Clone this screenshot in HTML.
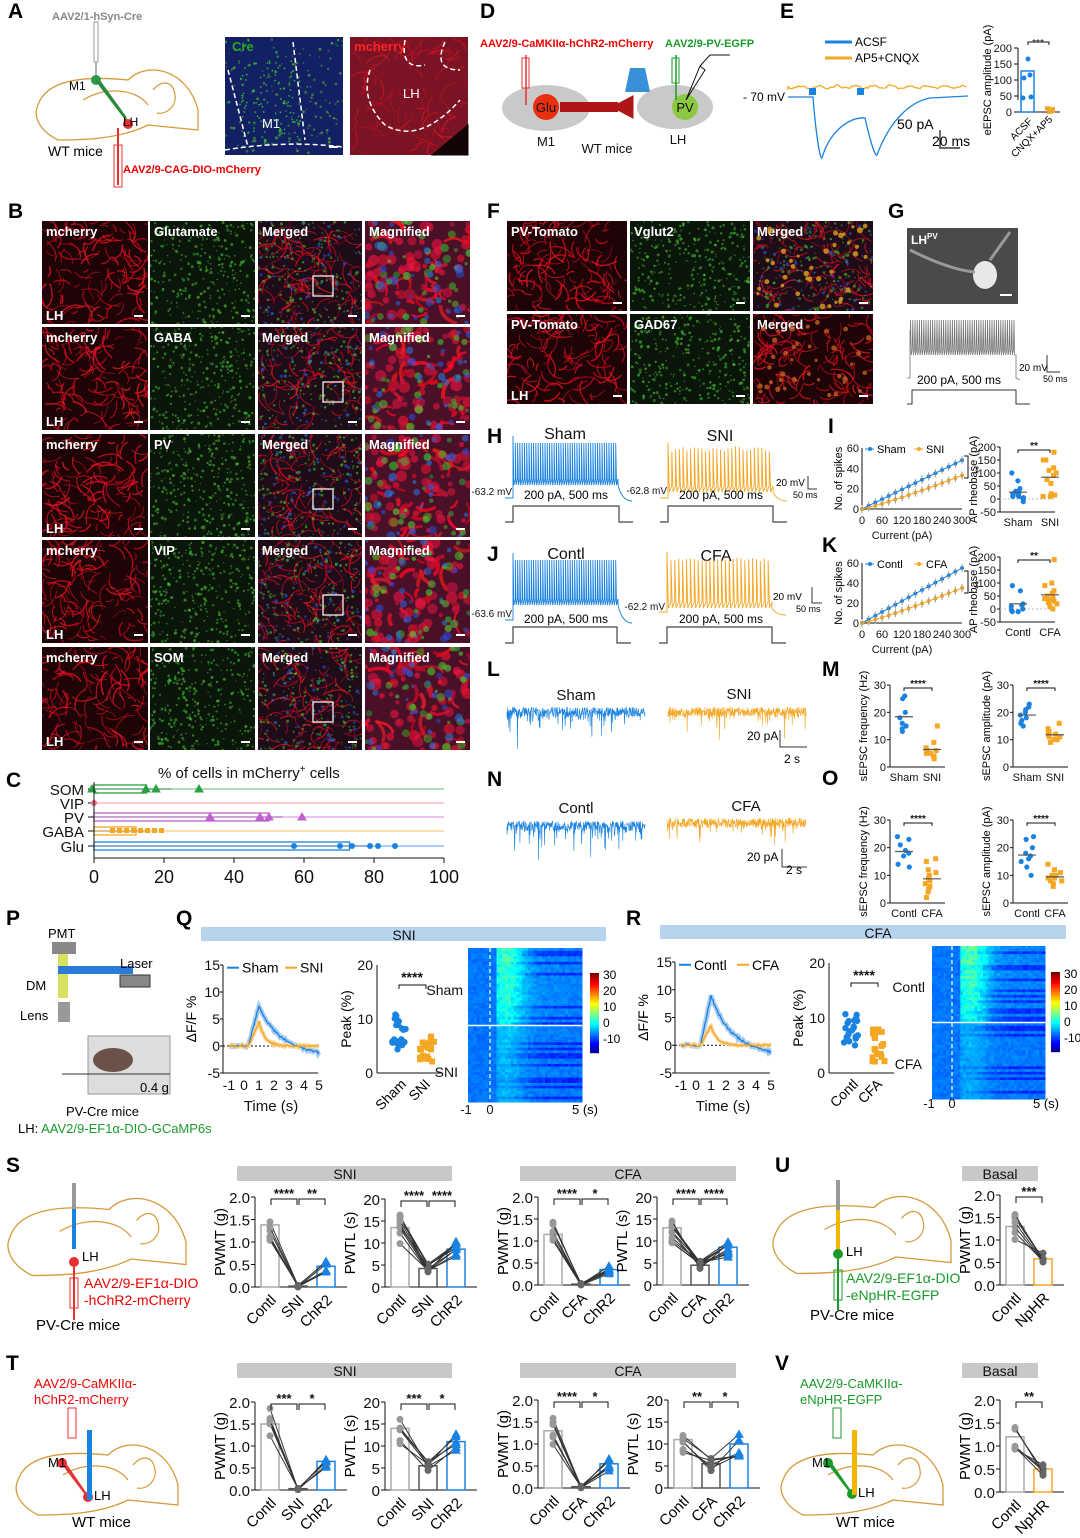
<!DOCTYPE html>
<html><head><meta charset="utf-8"><style>
html,body{margin:0;padding:0;background:#fff}
svg{display:block;font-family:"Liberation Sans",Arial,sans-serif}
</style></head><body>
<svg id="s" width="1080" height="1538" viewBox="0 0 1080 1538" xmlns="http://www.w3.org/2000/svg"></svg>
<script>
var o=[];var seed=7;var cid=0;function R(){seed=(seed*16807)%2147483647;return seed/2147483647;}
function rc(x,y,w,h,f,ex){o.push('<rect x="'+x+'" y="'+y+'" width="'+w+'" height="'+h+'" fill="'+f+'" '+(ex||'')+'/>');}
function tx(x,y,s,sz,f,an,w,ex){o.push('<text x="'+x+'" y="'+y+'" font-size="'+sz+'" fill="'+(f||'#000')+'" text-anchor="'+(an||'start')+'" font-weight="'+(w||'normal')+'" '+(ex||'')+'>'+s+'</text>');}
function ln(x1,y1,x2,y2,c,w,ex){o.push('<line x1="'+x1+'" y1="'+y1+'" x2="'+x2+'" y2="'+y2+'" stroke="'+c+'" stroke-width="'+(w||1)+'" '+(ex||'')+'/>');}
function pa(d,c,w,f,ex){o.push('<path d="'+d+'" stroke="'+c+'" stroke-width="'+(w||1)+'" fill="'+(f||'none')+'" '+(ex||'')+'/>');}
function ci(x,y,r,f,ex){o.push('<circle cx="'+x+'" cy="'+y+'" r="'+r+'" fill="'+f+'" '+(ex||'')+'/>');}
function L(x,y,s){tx(x,y,s,21,'#000','start','bold');}
function rot(x,y,s,sz){tx(x,y,s,sz,'#000','middle','normal','transform="rotate(-90 '+x+' '+y+')"');}
function rl(x,y,s,sz,a){tx(x,y,s,sz,'#000','end','normal','transform="rotate('+(a||-45)+' '+x+' '+y+')"');}
function col(a,b,c){return 'rgb('+Math.round(a)+','+Math.round(b)+','+Math.round(c)+')';}
function fib(x,y,w,h,n,wd,op){for(var i=0;i<n;i++){var a=x+R()*w,b=y+R()*h,an=R()*6.28,l=6+R()*20;var cx=a+Math.cos(an+0.8)*l*0.5,cy=b+Math.sin(an+0.8)*l*0.5;
 pa('M'+a.toFixed(1)+','+b.toFixed(1)+' Q'+cx.toFixed(1)+','+cy.toFixed(1)+' '+(a+Math.cos(an)*l).toFixed(1)+','+(b+Math.sin(an)*l).toFixed(1),col(190+R()*65,R()*30,20+R()*30),wd*(0.6+R()*0.8),'none','opacity="'+op+'"');}}
function img(x,y,w,h,t,lab,lab2){
 cid++;o.push('<clipPath id="c'+cid+'"><rect x="'+x+'" y="'+y+'" width="'+w+'" height="'+h+'"/></clipPath><g clip-path="url(#c'+cid+')">');
 var bg={red:'#1e0406',green:'#0a160a',merge:'#1e0c18',mag:'#4a1028',blue:'#142064',rbg:'#7a1424'}[t];
 rc(x,y,w,h,bg);var i;
 if(t=='red')fib(x,y,w,h,130,1.1,0.75);
 if(t=='merge')fib(x,y,w,h,110,1,0.7);
 if(t=='rbg')fib(x,y,w,h,90,0.9,0.6);
 if(t=='mag'){for(i=0;i<60;i++)ci((x+R()*w).toFixed(1),(y+R()*h).toFixed(1),2+R()*4,col(200+R()*50,20,40+R()*30),'opacity="0.6"');fib(x,y,w,h,30,3,0.8);}
 if(t=='green'||t=='merge'||t=='mag'||t=='blue'){var n=t=='mag'?35:(t=='green'?300:(t=='blue'?150:160));
  for(i=0;i<n;i++){ci((x+R()*w).toFixed(1),(y+R()*h).toFixed(1),t=='mag'?1.5+R()*3:0.6+R()*1,col(40+R()*60,140+R()*80,30+R()*40),'opacity="'+(t=='mag'?0.6:0.6)+'"');}}
 if(t=='merge'||t=='mag'){var n=t=='mag'?30:60;
  for(i=0;i<n;i++){ci((x+R()*w).toFixed(1),(y+R()*h).toFixed(1),t=='mag'?1.5+R()*3:0.8+R()*1,col(40,70+R()*60,200+R()*55),'opacity="0.55"');}}
 o.push('</g>');
 if(lab)tx(x+4,y+15,lab,13,'#fff','start','bold');
 if(lab2)tx(x+4,y+h-4,lab2,13,'#fff','start','bold');
 ln(x+w-14,y+h-8,x+w-5,y+h-8,'#fff',2);
}
// ===== A =====
L(8,18,'A');
tx(52,20,'AAV2/1-hSyn-Cre',11,'#888','start','bold');
rc(94,22,4,40,'#fff','stroke="#999"');ln(96,62,96,80,'#999',1.5);
function brain(x,y,s){pa('M'+x+','+(y+20*s)+' C'+(x+10*s)+','+(y-10*s)+' '+(x+60*s)+','+(y-8*s)+' '+(x+90*s)+','+(y-5*s)+' C'+(x+110*s)+','+(y-25*s)+' '+(x+150*s)+','+(y-15*s)+' '+(x+160*s)+','+(y+25*s)+' L'+(x+160*s)+','+(y+45*s)+' L'+(x+110*s)+','+(y+40*s)+' C'+(x+80*s)+','+(y+55*s)+' '+(x+40*s)+','+(y+55*s)+' '+(x+20*s)+','+(y+55*s)+' C'+(x)+','+(y+45*s)+' '+(x-5*s)+','+(y+30*s)+' '+x+','+(y+20*s),'#d49a3a',1.3);
 pa('M'+(x+45*s)+','+(y+15*s)+' C'+(x+70*s)+','+(y)+' '+(x+100*s)+','+(y+5*s)+' '+(x+110*s)+','+(y+20*s),'#d49a3a',1.2);
 pa('M'+(x+115*s)+','+(y+5*s)+' c8,-10 20,-10 22,5 c2,10 -8,20 -18,18','#d49a3a',1.2);}
brain(38,85,1);
ci(96,80,5,'#2a9a4a');pa('M96,80 L128,122 M100,82 L126,118','#2a8a3a',2);
ci(128,124,5,'#e83030');tx(69,90,'M1',12);tx(123,126,'LH',12);tx(48,156,'WT mice',14);
ln(118,128,118,185,'#e83030',2);rc(114,145,8,42,'none','stroke="#e83030"');
tx(123,173,'AAV2/9-CAG-DIO-mCherry',11,'#e00','start','bold');
img(225,37,118,118,'blue');for(var i=0;i<120;i++)ci(240+R()*60,60+R()*85,0.9,'#3c3','opacity="0.8"');tx(232,51,'Cre',13,'#2a2','start','bold');tx(262,128,'M1',13,'#fff');
pa('M228,70 L248,147 M293,42 L305,140 M225,150 Q285,140 343,147','#fff',1.5,'none','stroke-dasharray="5,3"');
img(350,37,118,118,'rbg');pa('M432,155 L468,125 L468,155 Z','#120505',0,'#120505');tx(354,51,'mcherry',13,'#f22','start','bold');tx(403,98,'LH',13,'#fff');
pa('M370,70 Q360,100 385,125 Q420,145 460,100 M405,40 Q400,70 425,65 M445,42 Q432,70 460,70','#fff',1.5,'none','stroke-dasharray="5,3"');
// ===== D =====
L(480,18,'D');
tx(480,47,'AAV2/9-CaMKIIα-hChR2-mCherry',11,'#e00','start','bold');tx(665,47,'AAV2/9-PV-EGFP',11,'#1a9a2a','start','bold');
o.push('<ellipse cx="546" cy="108" rx="44" ry="23" fill="#c9c9c9"/>');o.push('<ellipse cx="675" cy="107" rx="38" ry="22" fill="#c9c9c9"/>');
ci(546,107,13,'#e83010');tx(546,112,'Glu',13,'#111','middle');ci(685,107,13,'#8cc840');tx(685,112,'PV',13,'#111','middle');
rc(560,102,58,10,'#b01515');pa('M612,107 L633,96 L633,118 Z','#b01515',1,'#b01515');
pa('M630,68 L645,68 L650,92 L625,92 Z','none',0,'#3a90d8');
ln(526,55,526,105,'#e83030',1.5);rc(522,58,7,30,'none','stroke="#e83030"');ln(676,55,676,100,'#1a9a2a',1.5);rc(672,58,7,25,'none','stroke="#1a9a2a"');
pa('M686,100 L705,70 L700,66 Z M700,66 L710,55 L730,55','#111',1);
tx(546,146,'M1',13,'#111','middle');tx(607,153,'WT mice',13,'#111','middle');tx(678,144,'LH',13,'#111','middle');
// ===== E =====
L(780,18,'E');
ln(825,42,852,42,'#1a82e0',3);tx(855,46,'ACSF',12);ln(825,58,852,58,'#f5a623',3);tx(855,62,'AP5+CNQX',12);
var d='M788,90';for(var i=0;i<90;i++)d+=' L'+(788+i*2)+','+(87+Math.sin(i*0.7)*1.5+(R()-0.5)*2);pa(d,'#f5a623',1.3);
pa('M788,97 L813,97 C816,135 820,160 822,158 C830,130 850,117 865,118 C870,140 875,157 877,155 C890,120 910,102 930,98 L968,96','#1a82e0',1.3);
rc(809,88,7,7,'#1a82e0');rc(857,88,7,7,'#1a82e0');tx(743,101,'- 70 mV',12);
pa('M940,130 L940,148 L960,148','#111',1.2);tx(897,129,'50 pA',14);tx(932,146,'20 ms',14);
ln(1018,100,1018,48,'#111');[[200,48],[150,64],[100,80],[50,96],[0,112]].forEach(function(t){ln(1014,t[1],1018,t[1],'#111');tx(1012,t[1]+4,t[0],11,'#111','end');});
ln(1018,112,1060,112,'#111');rc(1021,71,13,41,'none','stroke="#1a82e0" stroke-width="1.5"');
[[1028,59],[1030,75],[1024,78],[1031,97],[1023,98]].forEach(function(p){ci(p[0],p[1],2.5,'#1a82e0');});
for(var i=0;i<6;i++)rc(1042+R()*10,106+R()*4,4,4,'#f5a623');
pa('M1028,45 L1028,42 L1049,42 L1049,45','#111');tx(1038,46,'***',10,'#111','middle');
rot(991,80,'eEPSC amplitude (pA)',11);rl(1033,122,'ACSF',10);rl(1053,120,'CNQX+AP5',10);
// ===== B =====
L(8,218,'B');
var bx=[42,150,258,365],by=[221,327,434,540,647],names=['Glutamate','GABA','PV','VIP','SOM'];
for(var r=0;r<5;r++){img(bx[0],by[r],106,103,'red','mcherry','LH');img(bx[1],by[r],105,103,'green',names[r]);img(bx[2],by[r],104,103,'merge','Merged');img(bx[3],by[r],105,103,'mag','Magnified');
 rc(bx[2]+55+(r%2)*10,by[r]+55,20,20,'none','stroke="#fff" stroke-width="1.2"');}
// ===== C =====
L(6,787,'C');tx(158,778,'% of cells in mCherry<tspan dy="-6" font-size="10">+</tspan><tspan dy="6"> cells</tspan>',15,'#111');
var cy=[789,803,817,831,846],cn=['SOM','VIP','PV','GABA','Glu'],cc=['#2aa040','#f07080','#c060d0','#f5a623','#1a82e0'],cv=[15,0,50,12,73],ce=[22,0,54,15,78];
for(var i=0;i<5;i++){tx(84,cy[i]+6,cn[i],15,'#111','end');ln(88,cy[i],94,cy[i],'#111');
 if(cv[i]>0)rc(94,cy[i]-4,cv[i]*3.5,8,'none','stroke="'+cc[i]+'" stroke-width="1.3"');ln(94,cy[i],94+ce[i]*3.5,cy[i],'#111',1);ln(94,cy[i],444,cy[i],cc[i],0.8);}
ci(94,803,3,'#f07080');
[[92,789],[146,789],[156,789],[199,789]].forEach(function(p){pa('M'+p[0]+','+(p[1]-4)+' l4,7 l-8,0 Z','#2aa040',1,'#2aa040');});
[[210,817],[260,817],[269,817],[302,817]].forEach(function(p){pa('M'+p[0]+','+(p[1]-4)+' l4,7 l-8,0 Z','#c060d0',1,'#c060d0');});
for(var i=0;i<8;i++)rc(110+i*7,828,5,5,'#f5a623');
[294,340,352,370,378,395].forEach(function(x){ci(x,846,3,'#1a82e0');});
ln(94,782,94,858,'#111');ln(94,858,444,858,'#111');
for(var i=0;i<=5;i++){ln(94+i*70,858,94+i*70,863,'#111');tx(94+i*70,883,i*20,18,'#111','middle');}
// ===== F =====
L(487,218,'F');
var fx=[507,630,753],fyy=[221,314],fl=[['PV-Tomato','Vglut2','Merged'],['PV-Tomato','GAD67','Merged']];
for(var r=0;r<2;r++){img(fx[0],fyy[r],120,90,'red',fl[r][0],r==1?'LH':'');img(fx[1],fyy[r],120,90,'green',fl[r][1]);img(fx[2],fyy[r],120,90,r==0?'merge':'red',fl[r][2]);}
for(var i=0;i<40;i++)ci(757+R()*112,225+R()*82,1.5+R()*1.5,'#e0a020','opacity="0.8"');
for(var i=0;i<40;i++)ci(757+R()*112,318+R()*82,1.5+R()*1.5,'#c06020','opacity="0.8"');
// ===== G =====
L(888,218,'G');rc(907,228,111,76,'#4a4a4a');o.push('<ellipse cx="985" cy="275" rx="12" ry="14" fill="#e8e8e8"/>');pa('M910,250 Q950,270 975,272 M990,260 L1010,232','#999',3);
tx(911,244,'LH<tspan dy="-5" font-size="8">PV</tspan>',12,'#fff','start','bold');ln(1000,295,1012,295,'#fff',2);
var d='M907,378 L910,378 L910,330';for(var i=0;i<48;i++){var x=910+i*2.2;d+=' L'+x.toFixed(1)+',350 L'+(x+0.6).toFixed(1)+',320 L'+(x+1.2).toFixed(1)+',355';}d+=' L1016,355 L1016,378 L1020,380';pa(d,'#777',0.8);
pa('M907,404 L912,404 L912,390 L1016,390 L1016,404 L1030,404','#333',1);tx(917,384,'200 pA, 500 ms',12);
tx(1019,371,'20 mV',10);tx(1043,382,'50 ms',9);pa('M1047,355 L1047,372 L1060,372','#333');
// ===== spikes =====
function spikes(x0,x1,top,bot,base,n,c,jit){var d='M'+(x0-8)+','+base+' L'+x0+','+base+' L'+x0+','+bot;var dx=(x1-x0)/n;
 for(var i=0;i<n;i++){var x=x0+i*dx;var t=top+(jit?R()*jit:0)+(i==0?-7:0);d+=' L'+x.toFixed(1)+','+t.toFixed(1)+' L'+(x+dx*0.35).toFixed(1)+','+bot+' L'+(x+dx*0.99).toFixed(1)+','+(bot-6);}
 d+=' L'+x1+','+bot+' Q'+(x1+4)+','+(base+3)+' '+(x1+14)+','+(base+3);pa(d,c,0.9);}
function stim(x0,x1,top,bot){pa('M'+(x0-8)+','+bot+' L'+x0+','+bot+' L'+x0+','+top+' L'+x1+','+top+' L'+x1+','+bot+' L'+(x1+14)+','+bot,'#444',1.2);}
L(487,443,'H');tx(565,439,'Sham',16,'#111','middle');tx(720,441,'SNI',16,'#111','middle');
spikes(513,618,443,485,498,46,'#1a82e0',0);spikes(668,773,446,492,498,28,'#f5a623',6);
stim(513,619,506,522);stim(668,773,506,522);
tx(512,495,'-63.2 mV',10,'#111','end');tx(667,494,'-62.8 mV',10,'#111','end');tx(524,499,'200 pA, 500 ms',12);tx(679,499,'200 pA, 500 ms',12);
tx(776,486,'20 mV',10);tx(793,498,'50 ms',9);pa('M808,476 L808,489 L817,489','#333');
L(487,561,'J');tx(566,559,'Contl',16,'#111','middle');tx(716,561,'CFA',16,'#111','middle');
spikes(513,618,560,605,620,46,'#1a82e0',0);spikes(667,772,558,608,612,27,'#f5a623',3);
stim(513,617,627,643);stim(667,772,627,643);
tx(512,617,'-63.6 mV',10,'#111','end');tx(665,610,'-62.2 mV',10,'#111','end');tx(524,623,'200 pA, 500 ms',12);tx(679,623,'200 pA, 500 ms',12);
tx(773,600,'20 mV',10);tx(796,612,'50 ms',9);pa('M812,587 L812,603 L822,603','#333');
// line charts I,K
function lc(ax,yt,yb,c1,c2,a,b,l1,l2){ln(ax,yt,ax,yb,'#111');ln(ax,yb,ax+100,yb,'#111');
 [60,40,20,0].forEach(function(v,i){var y=yb-(v/60)*(yb-yt);tx(ax-3,y+4,v,11,'#111','end');});
 [0,60,120,180,240,300].forEach(function(v){tx(ax+v/3,yb+15,v,11,'#111','middle');});
 var d1='',d2='';for(var i=0;i<=15;i++){var x=ax+i*6.67;var y1=yb-(a*i/15)/60*(yb-yt),y2=yb-(b*Math.pow(i/15,1.15))/60*(yb-yt);d1+=(i?'L':'M')+x.toFixed(1)+','+y1.toFixed(1);d2+=(i?'L':'M')+x.toFixed(1)+','+y2.toFixed(1);ci(x,y1,2,c1);ci(x,y2,2,c2);ln(x,y1-4,x,y1+4,'#999');ln(x,y2-4,x,y2+4,'#999');}
 pa(d1,c1,1);pa(d2,c2,1);tx(ax+40,yb+30,'Current (pA)',11,'#111','middle');rot(ax-20,(yt+yb)/2,'No. of spikes',11);
 ln(ax+3,yt+1,ax+12,yt+1,c1);ci(ax+8,yt+1,2,c1);tx(ax+15,yt+5,l1,11);ln(ax+52,yt+1,ax+61,yt+1,c2);ci(ax+57,yt+1,2,c2);tx(ax+64,yt+5,l2,11);
 pa('M'+(ax+102)+','+(yt+8)+' l4,0 l0,22 l-4,0','#111');tx(ax+110,yt+18,'**',10,'#111','start','normal','transform="rotate(90 '+(ax+110)+' '+(yt+18)+')"');}
L(828,433,'I');lc(862,448,509,'#1a82e0','#f5a623',48,33,'Sham','SNI');
L(822,552,'K');lc(862,563,623,'#1a82e0','#f5a623',55,35,'Contl','CFA');
// scatter charts
function sc(ax,yt,yb,mx,mn,ticks,g,yl,stars){ln(ax,yt,ax,yb,'#111');ln(ax,yb,ax+55,yb,'#111');
 ticks.forEach(function(v){var y=yb-(v-mn)/(mx-mn)*(yb-yt);ln(ax-3,y,ax,y,'#111');tx(ax-4,y+4,v,11,'#111','end');});
 if(mn<0){var y0=yb-(0-mn)/(mx-mn)*(yb-yt);ln(ax,y0,ax+55,y0,'#bbb',1,'stroke-dasharray="2,2"');}
 g.forEach(function(q){q.v.forEach(function(v){var y=yb-(v-mn)/(mx-mn)*(yb-yt);var x=q.x+(R()-0.5)*14;if(q.s)rc(x-2.5,y-2.5,5,5,q.c);else ci(x,y,2.6,q.c);});
  var m=q.v.reduce(function(a,b){return a+b;},0)/q.v.length;var ym=yb-(m-mn)/(mx-mn)*(yb-yt);ln(q.x-9,ym,q.x+9,ym,'#555',1.2);tx(q.x,yb+14,q.l,11,'#111','middle');});
 rot(ax-23,(yt+yb)/2,yl,11);var ys=yt+3;pa('M'+g[0].x+','+(ys+3)+' L'+g[0].x+','+ys+' L'+g[1].x+','+ys+' L'+g[1].x+','+(ys+3),'#111');tx((g[0].x+g[1].x)/2,ys-1,stars,10,'#111','middle','bold');}
sc(1000,447,512,200,-50,[200,150,100,50,0,-50],[{x:1018,l:'Sham',v:[100,70,30,20,10,5,0,-10,15,25,40,10],c:'#1a82e0'},{x:1050,l:'SNI',v:[180,150,150,110,100,90,75,60,15,10,10,20,120],c:'#f5a623',s:1}],'AP rheobase (pA)','**');
sc(1000,557,622,200,-50,[200,150,100,50,0,-50],[{x:1018,l:'Contl',v:[90,70,20,10,0,-10,-10,-5,15],c:'#1a82e0'},{x:1050,l:'CFA',v:[190,100,90,60,50,40,30,20,10,0,70,45,35,25],c:'#f5a623',s:1}],'AP rheobase (pA)','**');
L(822,676,'M');sc(890,685,767,30,0,[30,20,10,0],[{x:904,l:'Sham',v:[26,25,20,18,16,15,13,14],c:'#1a82e0'},{x:932,l:'SNI',v:[15,9,7,6,5,4,3,6,5,4],c:'#f5a623',s:1}],'sEPSC frequency (Hz)','****');
sc(1013,685,767,30,0,[30,20,10,0],[{x:1027,l:'Sham',v:[23,22,21,20,19,18,16,15,17],c:'#1a82e0'},{x:1055,l:'SNI',v:[16,14,13,12,11,10,9,10,11,12],c:'#f5a623',s:1}],'sEPSC amplitude (pA)','****');
L(822,785,'O');sc(890,820,903,30,0,[30,20,10,0],[{x:904,l:'Contl',v:[24,23,21,19,17,14,13,18],c:'#1a82e0'},{x:932,l:'CFA',v:[16,15,12,10,8,7,5,4,2,6,9,11],c:'#f5a623',s:1}],'sEPSC frequency (Hz)','****');
sc(1013,820,903,30,0,[30,20,10,0],[{x:1027,l:'Contl',v:[24,23,20,18,17,15,13,10,16],c:'#1a82e0'},{x:1055,l:'CFA',v:[14,12,11,10,9,8,7,6,9,10,8],c:'#f5a623',s:1}],'sEPSC amplitude (pA)','****');
// noise traces
function noise(x0,x1,y,c,dn){var d='M'+x0+','+y;for(var x=x0;x<=x1;x+=0.3){var v=y+(R()-0.5)*10;if(R()<dn)v=y+6+R()*R()*R()*45;d+=' L'+x.toFixed(1)+','+v.toFixed(1);}pa(d,c,0.6);}
L(487,676,'L');tx(576,700,'Sham',15,'#111','middle');tx(739,699,'SNI',15,'#111','middle');noise(507,645,712,'#1a82e0',0.12);noise(668,806,712,'#f5a623',0.06);
tx(747,740,'20 pA',12);pa('M780,730 L780,747 L807,747','#333');tx(784,763,'2 s',12);
L(487,786,'N');tx(576,813,'Contl',15,'#111','middle');tx(746,811,'CFA',15,'#111','middle');noise(507,645,826,'#1a82e0',0.12);noise(667,806,823,'#f5a623',0.06);
tx(747,861,'20 pA',12);pa('M782,849 L782,867 L807,867','#333');tx(786,874,'2 s',12);
// ===== P =====
L(6,925,'P');tx(48,938,'PMT',13);rc(52,942,24,12,'#888');rc(58,954,10,44,'#d8e060');rc(58,966,75,8,'#2a7ad8');
rc(120,975,30,12,'#888','stroke="#333"');tx(120,968,'Laser',13);tx(26,990,'DM',13);tx(20,1020,'Lens',13);
rc(58,1002,12,20,'#999');rc(88,1036,82,58,'#ddd','stroke="#999"');o.push('<ellipse cx="113" cy="1060" rx="20" ry="12" fill="#6a5248"/>');
ln(62,1074,170,1074,'#333');tx(140,1092,'0.4 g',13);tx(66,1116,'PV-Cre mice',13);tx(18,1133,'LH: <tspan fill="#1a9a2a">AAV2/9-EF1α-DIO-GCaMP6s</tspan>',13);
// ===== Q/R =====
function jet(v){v=Math.max(0,Math.min(1,v));function c(x){return Math.round(255*Math.max(0,Math.min(1,x)));}return 'rgb('+c(1.5-Math.abs(4*v-3))+','+c(1.5-Math.abs(4*v-2))+','+c(1.5-Math.abs(4*v-1))+')';}
function heat(x,y,w,h,amp){var rows=28,cols=40,cw=w/cols,rh=h/rows;for(var r=0;r<rows;r++){var dk=(R()<0.3)?0.08:0;for(var c=0;c<cols;c++){var t=c/cols*6-1;var v=0.24+(R()-0.5)*0.04;if(t>0.4){v+=amp*(0.6+0.4*R())*(Math.exp(-(t-1)*(t-1)/0.8)*0.9+0.25*Math.exp(-(t-1)/3))*(1-r/rows*0.3);v-=dk*Math.min(1,t/3);} o.push('<rect x="'+(x+c*cw).toFixed(1)+'" y="'+(y+r*rh).toFixed(1)+'" width="'+(cw+0.5).toFixed(1)+'" height="'+(rh+0.5).toFixed(1)+'" fill="'+jet(v)+'"/>');}}}
function cbar(x,y){for(var i=0;i<40;i++)rc(x,y+i*2,9,2.2,jet(1-i/40));[30,20,10,0,-10].forEach(function(v,i){tx(x+13,y+6+i*16,v,12);});}
function dff(ax,yt,yb,pk1,pk2,l1,l2){var sc=(yb-yt)/20;function Y(v){return yb-(v+5)*sc;}ln(ax,yt,ax,yb,'#111');ln(ax,yb,ax+95,yb,'#111');
 [15,10,5,0,-5].forEach(function(v){tx(ax-3,Y(v)+5,v,14,'#111','end');ln(ax-3,Y(v),ax,Y(v),'#111');});
 ['-1','0','1','2','3','4','5'].forEach(function(v,i){tx(ax+6+i*15,yb+17,v,14,'#111','middle');});
 var x0=ax+21;ln(ax,Y(0),ax+95,Y(0),'#111',1,'stroke-dasharray="2,2"');
 var d1='',d2='';for(var i=0;i<=90;i++){var t=-1+i/15;var x=x0+t*15;var a=t<0.3?0:(t<1?pk1*(t-0.3)/0.7:pk1*Math.exp(-(t-1)/1.2)-1.5*(t-1)/4);var b=t<0.3?0:(t<1?pk2*(t-0.3)/0.7:pk2*Math.exp(-(t-1)/0.4));d1+=(i?'L':'M')+x.toFixed(1)+','+Y(a+(R()-0.5)*0.4).toFixed(1);d2+=(i?'L':'M')+x.toFixed(1)+','+Y(b+(R()-0.5)*0.3).toFixed(1);}
 pa(d1,'#a8cdf0',5);pa(d2,'#f8d6a0',4);pa(d1,'#1a82e0',1.3);pa(d2,'#f5a623',1.3);
 ln(ax+4,Y(14.5),ax+16,Y(14.5),'#1a82e0',2);tx(ax+19,Y(14.5)+5,l1,14);ln(ax+62,Y(14.5),ax+74,Y(14.5),'#f5a623',2);tx(ax+77,Y(14.5)+5,l2,14);
 rot(ax-27,(yt+yb)/2,'ΔF/F %',14);tx(ax+48,yb+38,'Time (s)',15,'#111','middle');}
function peak(ax,yt,yb,g1,g2,l1,l2){ln(ax,yt,ax,yb,'#111');ln(ax,yb,ax+65,yb,'#111');[[20,yt],[10,(yt+yb)/2],[0,yb]].forEach(function(t){tx(ax-4,t[1]+5,t[0],14,'#111','end');});
 for(var i=0;i<22;i++){ci(ax+22+(R()-0.5)*14,yb-(g1[0]+R()*(g1[1]-g1[0]))/20*(yb-yt),3.2,'#1a82e0');rc(ax+47+(R()-0.5)*14,yb-(g2[0]+R()*(g2[1]-g2[0]))/20*(yb-yt)-3,6,6,'#f5a623');}
 pa('M'+(ax+22)+','+(yt+24)+' L'+(ax+22)+','+(yt+20)+' L'+(ax+49)+','+(yt+20)+' L'+(ax+49)+','+(yt+24),'#111');tx(ax+35,yt+17,'****',14,'#111','middle','bold');
 rot(ax-26,(yt+yb)/2,'Peak (%)',14);rl(ax+30,yb+12,l1,14);rl(ax+54,yb+12,l2,14);}
L(176,925,'Q');rc(201,927,405,14,'#b7d3ee');tx(404,940,'SNI',14,'#111','middle');
dff(223,965,1073,7.5,4.5,'Sham','SNI');peak(377,965,1073,[4,11.5],[2,7],'Sham','SNI');
heat(468,948,114,77,0.22);heat(468,1026,114,76,0.09);ln(468,1025.5,582,1025.5,'#fff',1.5);ln(490,948,490,1102,'#fff',1.2,'stroke-dasharray="4,3"');
tx(463,995,'Sham',14,'#111','end');tx(458,1077,'SNI',14,'#111','end');tx(466,1114,'-1',13,'#111','middle');tx(490,1114,'0',13,'#111','middle');tx(572,1114,'5 (s)',13);cbar(590,973);
L(626,925,'R');rc(660,925,406,14,'#b7d3ee');tx(878,938,'CFA',14,'#111','middle');
dff(675,962,1073,9,3.5,'Contl','CFA');peak(829,963,1073,[5,11],[2,8],'Contl','CFA');
heat(932,946,113,76,0.24);heat(932,1023,113,76,0.07);ln(932,1022.5,1045,1022.5,'#fff',1.5);ln(952,946,952,1099,'#fff',1.2,'stroke-dasharray="4,3"');
tx(925,992,'Contl',14,'#111','end');tx(922,1069,'CFA',14,'#111','end');tx(929,1108,'-1',13,'#111','middle');tx(952,1108,'0',13,'#111','middle');tx(1033,1108,'5 (s)',13);cbar(1051,972);
// ===== S/T/U/V =====
function bar(ax,yt,yb,mx,ticks,yl,labels,vals,cols,stars,npts){ln(ax,yt,ax,yb,'#111');var n=labels.length;ln(ax,yb,ax+8+n*28,yb,'#111');
 ticks.forEach(function(v){var y=yb-v/mx*(yb-yt);ln(ax-4,y,ax,y,'#111');tx(ax-5,y+6,(mx<5?v.toFixed(1):v),15,'#111','end');});
 rot(ax-30,(yt+yb)/2,yl,15);var cx=[];
 for(var i=0;i<n;i++){var x=ax+6+i*28;cx.push(x+9);var h=vals[i]/mx*(yb-yt);rc(x,yb-h,18,h,'none','stroke="'+cols[i]+'" stroke-width="1.5"');rl(x+16,yb+14,labels[i],15);}
 for(var k=0;k<npts;k++){var p=[];for(var i=0;i<n;i++){var v=vals[i]*(0.7+R()*0.55);if(vals[i]<mx*0.03)v=R()*mx*0.02;p.push([cx[i],yb-v/mx*(yb-yt)]);}
  var d='M'+p.map(function(q){return q[0]+','+q[1].toFixed(1);}).join(' L');pa(d,'#333',1);p.forEach(function(q,i){if(cols[i]=='#1a82e0')pa('M'+q[0]+','+(q[1]-4)+' l4,7 l-8,0 Z',cols[i],1,cols[i]);else ci(q[0],q[1],3.5,i==0?'#999':'#666');});}
 var ys=yt+2;for(var s=0;s<stars.length;s++){var a=cx[s],b=cx[s+1];if(!stars[s])continue;pa('M'+(a+1)+','+(ys+6)+' L'+(a+1)+','+ys+' L'+(b-1)+','+ys+' L'+(b-1)+','+(ys+6),'#111');tx((a+b)/2,ys-1,stars[s],13,'#111','middle','bold');}}
var G='#aaa',B='#1a82e0',O='#f5a623';
L(6,1172,'S');rc(237,1166,215,15,'#c8c8c8');tx(345,1179,'SNI',14,'#111','middle');rc(520,1166,216,15,'#c8c8c8');tx(628,1179,'CFA',14,'#111','middle');
bar(255,1197,1287,2,[0,0.5,1,1.5,2],'PWMT (g)',['Contl','SNI','ChR2'],[1.38,0.02,0.46],[G,'#555',B],['****','**'],6);
bar(385,1199,1287,20,[0,5,10,15,20],'PWTL (s)',['Contl','SNI','ChR2'],[13.5,4.2,8.6],[G,'#555',B],['****','****'],10);
bar(538,1197,1285,2,[0,0.5,1,1.5,2],'PWMT (g)',['Contl','CFA','ChR2'],[1.15,0.02,0.35],[G,'#555',B],['****','*'],6);
bar(657,1197,1285,20,[0,5,10,15,20],'PWTL (s)',['Contl','CFA','ChR2'],[13,4.5,8.6],[G,'#555',B],['****','****'],10);
brain(10,1215,1.1);rc(72,1183,4,26,'#999');rc(72,1209,4,40,'#1a82e0');ci(74,1262,5,'#e83030');tx(82,1261,'LH',13);ln(74,1267,74,1320,'#e83030',2);rc(70,1278,8,30,'none','stroke="#e83030"');
tx(84,1288,'AAV2/9-EF1α-DIO',14,'#e00');tx(84,1305,'-hChR2-mCherry',14,'#e00');tx(36,1330,'PV-Cre mice',15);
L(775,1172,'U');rc(962,1166,76,15,'#c8c8c8');tx(1000,1179,'Basal',14,'#111','middle');
bar(1000,1195,1285,2,[0,0.5,1,1.5,2],'PWMT (g)',['Contl','NpHR'],[1.3,0.58],[G,O],['***'],8);
brain(775,1213,1.1);rc(836,1180,4,30,'#999');rc(836,1210,4,40,'#f5b400');ci(838,1254,5,'#1a9a2a');tx(846,1256,'LH',13);ln(838,1259,838,1310,'#1a9a2a',2);rc(834,1270,8,30,'none','stroke="#1a9a2a"');
tx(846,1283,'AAV2/9-EF1α-DIO',14,'#1a9a2a');tx(846,1300,'-eNpHR-EGFP',14,'#1a9a2a');tx(810,1320,'PV-Cre mice',15);
L(6,1370,'T');rc(237,1363,215,15,'#c8c8c8');tx(345,1376,'SNI',14,'#111','middle');rc(520,1363,216,15,'#c8c8c8');tx(628,1376,'CFA',14,'#111','middle');
bar(255,1402,1490,2,[0,0.5,1,1.5,2],'PWMT (g)',['Contl','SNI','ChR2'],[1.5,0.03,0.65],[G,'#555',B],['***','*'],6);
bar(385,1402,1490,20,[0,5,10,15,20],'PWTL (s)',['Contl','SNI','ChR2'],[14,5.5,11],[G,'#555',B],['***','*'],6);
bar(538,1400,1488,2,[0,0.5,1,1.5,2],'PWMT (g)',['Contl','CFA','ChR2'],[1.3,0.03,0.55],[G,'#555',B],['****','*'],6);
bar(668,1400,1488,20,[0,5,10,15,20],'PWTL (s)',['Contl','CFA','ChR2'],[11,5.5,10],[G,'#555',B],['**','*'],6);
tx(34,1388,'AAV2/9-CaMKIIα-',13,'#e00');tx(34,1404,'hChR2-mCherry',13,'#e00');brain(18,1460,1.0);
rc(68,1408,8,30,'none','stroke="#e83030"');ci(62,1463,5,'#e83030');ci(88,1497,5,'#e83030');pa('M62,1463 L88,1497 M66,1465 L86,1494','#e83030',2);rc(87,1430,5,70,'#1a82e0');tx(48,1467,'M1',13);tx(94,1500,'LH',13);tx(72,1527,'WT mice',15);
L(775,1370,'V');rc(962,1363,76,15,'#c8c8c8');tx(1000,1376,'Basal',14,'#111','middle');
bar(1000,1400,1492,2,[0,0.5,1,1.5,2],'PWMT (g)',['Contl','NpHR'],[1.2,0.5],[G,O],['**'],6);
tx(800,1388,'AAV2/9-CaMKIIα-',13,'#1a9a2a');tx(800,1404,'eNpHR-EGFP',13,'#1a9a2a');brain(783,1460,1.0);
rc(833,1408,8,30,'none','stroke="#1a9a2a"');ci(828,1463,5,'#1a9a2a');ci(852,1494,5,'#1a9a2a');pa('M828,1463 L852,1494 M832,1465 L850,1491','#1a9a2a',2);rc(852,1430,5,65,'#f5b400');tx(812,1467,'M1',13);tx(858,1497,'LH',13);tx(836,1527,'WT mice',15);
document.getElementById('s').innerHTML=o.join('');
</script>
</body></html>
